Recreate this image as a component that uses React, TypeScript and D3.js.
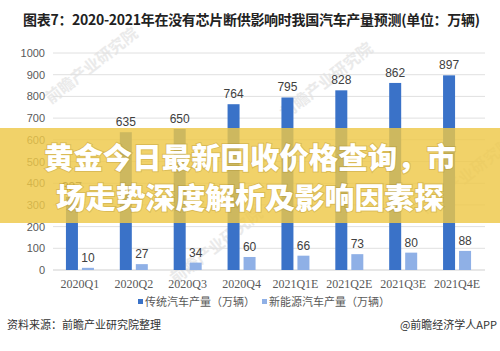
import React, { useEffect, useRef } from 'react';
import * as d3 from 'd3';

const quarters = ['2020Q1', '2020Q2', '2020Q3', '2020Q4', '2021Q1E', '2021Q2E', '2021Q3E', '2021Q4E'];
const traditional = [337, 635, 650, 764, 795, 828, 862, 897];
const newEnergy = [10, 27, 34, 60, 66, 73, 80, 88];
const seriesNames = ['传统汽车产量（万辆）', '新能源汽车产量（万辆）'];
const yTicks = [0, 100, 200, 300, 400, 500, 600, 700, 800, 900, 1000];
const seriesColors = ['#3a72c8', '#8fb0e6'];

const App = () => {
  const ref = useRef<SVGSVGElement>(null);

  useEffect(() => {
    const svg = d3.select(ref.current);
    svg.selectAll('*').remove();

    const w = 500, h = 351;
    svg.attr('width', w).attr('height', h);

    svg.append('rect').attr('width', w).attr('height', h).attr('fill', '#ffffff');

    // title
    svg.append('text')
      .attr('x', 23).attr('y', 25)
      .attr('font-family', '"Noto Sans CJK SC", sans-serif')
      .attr('font-weight', 'bold')
      .attr('font-size', 14)
      .attr('fill', '#222')
      .attr('textLength', 457)
      .text('图表7：2020-2021年在没有芯片断供影响时我国汽车产量预测(单位：万辆)');

    // faint watermarks
    const marks = [[95, 70], [330, 85], [220, 250], [470, 180]];
    marks.forEach(([mx, my]) => {
      svg.append('text')
        .attr('transform', `translate(${mx},${my}) rotate(-38)`)
        .attr('text-anchor', 'middle')
        .attr('font-family', '"Noto Sans CJK SC", sans-serif')
        .attr('font-weight', 'bold')
        .attr('font-size', 16)
        .attr('fill', '#e6e6e6')
        .attr('opacity', 0.8)
        .text('前瞻产业研究院');
    });

    const y = d3.scaleLinear().domain([0, 1000]).range([270, 53]);
    const x = d3.scaleBand().domain(quarters).range([53, 484]).paddingInner(0);
    const sub = d3.scaleBand().domain(['a', 'b']).range([-14, 14]).paddingInner(0.25).paddingOuter(0);

    const g = svg.append('g');

    // gridlines
    g.selectAll('line.grid')
      .data(yTicks)
      .enter()
      .append('line')
      .attr('x1', 53).attr('x2', 485)
      .attr('y1', d => y(d)).attr('y2', d => y(d))
      .attr('stroke', d => (d === 0 ? '#cfcfcf' : '#e0e0e0'))
      .attr('stroke-width', 1);

    g.selectAll('text.ytick')
      .data(yTicks)
      .enter()
      .append('text')
      .attr('x', 45).attr('y', d => y(d) + 4)
      .attr('text-anchor', 'end')
      .attr('font-family', '"Liberation Sans", sans-serif')
      .attr('font-size', 11)
      .attr('fill', '#595959')
      .text(d => d);

    const cx = (q: string) => (x(q) as number) + x.bandwidth() / 2;
    const series = [traditional, newEnergy];
    series.forEach((vals, si) => {
      const key = si === 0 ? 'a' : 'b';
      g.selectAll(`rect.s${si}`)
        .data(vals)
        .enter()
        .append('rect')
        .attr('x', (d, i) => cx(quarters[i]) + (sub(key) as number))
        .attr('y', d => y(d))
        .attr('width', sub.bandwidth())
        .attr('height', d => y(0) - y(d))
        .attr('fill', seriesColors[si]);

      g.selectAll(`text.v${si}`)
        .data(vals)
        .enter()
        .append('text')
        .attr('x', (d, i) => cx(quarters[i]) + (sub(key) as number) + sub.bandwidth() / 2)
        .attr('y', d => y(d) - 6)
        .attr('text-anchor', 'middle')
        .attr('font-family', '"Liberation Sans", sans-serif')
        .attr('font-size', 12)
        .attr('fill', '#404040')
        .text(d => d);
    });

    // x labels
    g.selectAll('text.xl')
      .data(quarters)
      .enter()
      .append('text')
      .attr('x', d => cx(d))
      .attr('y', 288)
      .attr('text-anchor', 'middle')
      .attr('font-family', '"Liberation Serif", serif')
      .attr('font-size', 12)
      .attr('fill', '#595959')
      .text(d => d);

    // legend
    const legendX = [138, 262];
    seriesNames.forEach((name, i) => {
      svg.append('rect')
        .attr('x', legendX[i]).attr('y', 299)
        .attr('width', 5).attr('height', 5)
        .attr('fill', seriesColors[i]);
      svg.append('text')
        .attr('x', legendX[i] + 7).attr('y', 306)
        .attr('font-family', '"Noto Sans CJK SC", sans-serif')
        .attr('font-size', 11)
        .attr('fill', '#595959')
        .text(name);
    });

    // footer
    svg.append('text')
      .attr('x', 7).attr('y', 329)
      .attr('font-family', '"Noto Sans CJK SC", sans-serif')
      .attr('font-size', 11)
      .attr('fill', '#333')
      .text('资料来源：前瞻产业研究院整理');
    svg.append('text')
      .attr('x', 497).attr('y', 329)
      .attr('text-anchor', 'end')
      .attr('font-family', '"Noto Sans CJK SC", sans-serif')
      .attr('font-size', 11)
      .attr('fill', '#333')
      .text('@前瞻经济学人APP');

    // overlay banner
    svg.append('rect')
      .attr('x', 0).attr('y', 128)
      .attr('width', w).attr('height', 95)
      .attr('fill', 'rgb(238,200,72)')
      .attr('opacity', 0.82);

    const lines = ['黄金今日最新回收价格查询，市', '场走势深度解析及影响因素探'];
    const lineY = [169, 209];
    const lineLen = [412, 388];
    lines.forEach((t, i) => {
      svg.append('text')
        .attr('x', 250).attr('y', lineY[i])
        .attr('text-anchor', 'middle')
        .attr('font-family', '"Noto Sans CJK SC", sans-serif')
        .attr('font-weight', 900)
        .attr('font-size', 29)
        .attr('fill', '#ffffff')
        .attr('textLength', lineLen[i])
        .attr('lengthAdjust', 'spacingAndGlyphs')
        .style('paint-order', 'stroke')
        .attr('stroke', 'rgba(150,120,30,0.25)')
        .attr('stroke-width', 2)
        .text(t);
    });
  }, []);

  return (
    <div>
      <svg ref={ref} style={{ display: 'block', position: 'absolute', left: 0, top: 0 }}></svg>
    </div>
  );
};

export default App;
